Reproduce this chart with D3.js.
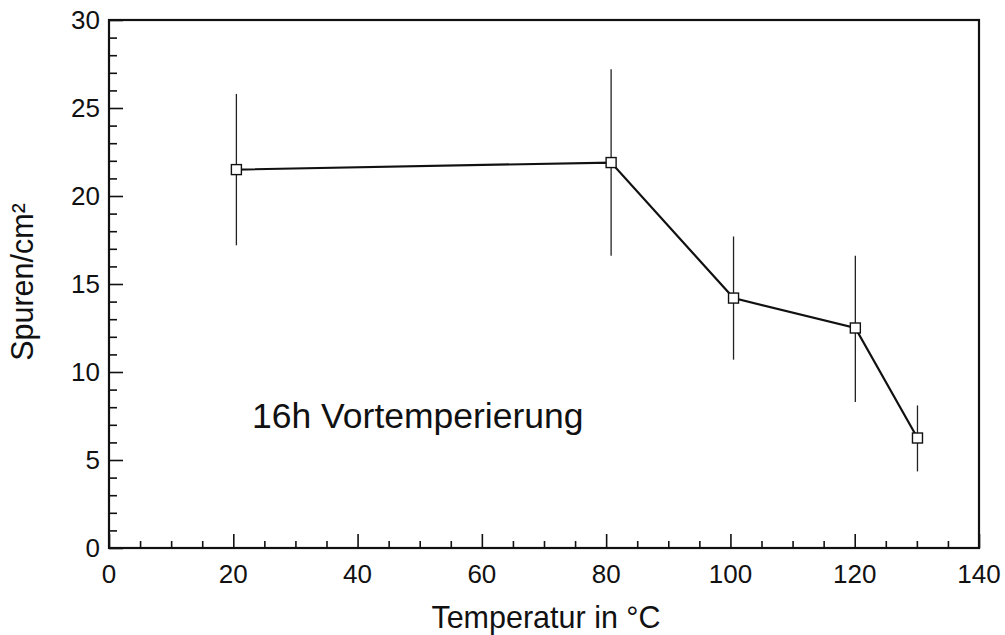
<!DOCTYPE html>
<html>
<head>
<meta charset="utf-8">
<script src="https://cdn.jsdelivr.net/npm/d3@7"></script>
<style>
  body { margin: 0; background: #fff; }
  svg { display: block; font-family: "Liberation Sans", Arial, Helvetica, sans-serif; }
</style>
</head>
<body>
<div id="chart"></div>
<script>
// Temperatur (°C), Spuren/cm², Fehlerbalken oben/unten
const temps = [20.5, 80.8, 100.5, 120.1, 130.1];
const tracks = [21.5, 21.9, 14.2, 12.5, 6.25];
const errHigh = [25.8, 27.2, 17.7, 16.6, 8.1];
const errLow = [17.2, 16.6, 10.7, 8.3, 4.35];

const xTicks = [0, 20, 40, 60, 80, 100, 120, 140];
const yTicks = [0, 5, 10, 15, 20, 25, 30];

const width = 1005;
const height = 635;
const plotLeft = 109, plotRight = 979, plotTop = 20, plotBottom = 548;

const x = d3.scaleLinear().domain([0, 140]).range([plotLeft, plotRight]);
const y = d3.scaleLinear().domain([0, 30]).range([plotBottom, plotTop]);

const svg = d3.select("#chart").append("svg")
  .attr("width", width)
  .attr("height", height);

// frame
svg.append("rect")
  .attr("x", plotLeft)
  .attr("y", plotTop)
  .attr("width", plotRight - plotLeft)
  .attr("height", plotBottom - plotTop)
  .style("fill", "none")
  .style("stroke", "#111")
  .attr("stroke-width", 2.2);

// ticks point inward, minor every 5 °C and every 1 unit
const xMinor = d3.range(0, 141, 5).filter(v => v % 20 !== 0);
const yMinor = d3.range(0, 31, 1).filter(v => v % 5 !== 0);

const xAxis = svg.append("g").attr("transform", `translate(0,${plotBottom})`);
xAxis.call(d3.axisTop(x).tickValues(xMinor).tickSize(7).tickFormat(""));
xAxis.call(g => g.select(".domain").remove());
const xAxisMajor = svg.append("g").attr("transform", `translate(0,${plotBottom})`);
xAxisMajor.call(d3.axisTop(x).tickValues(xTicks).tickSize(14).tickFormat(""));
xAxisMajor.call(g => g.select(".domain").remove());

const yAxis = svg.append("g").attr("transform", `translate(${plotLeft},0)`);
yAxis.call(d3.axisRight(y).tickValues(yMinor).tickSize(8).tickFormat(""));
yAxis.call(g => g.select(".domain").remove());
const yAxisMajor = svg.append("g").attr("transform", `translate(${plotLeft},0)`);
yAxisMajor.call(d3.axisRight(y).tickValues(yTicks).tickSize(14).tickFormat(""));
yAxisMajor.call(g => g.select(".domain").remove());

svg.selectAll(".tick line").style("stroke", "#111").attr("stroke-width", 1.6);

// tick labels
svg.append("g").selectAll("text")
  .data(xTicks)
  .join("text")
  .attr("x", d => x(d))
  .attr("y", 583)
  .attr("text-anchor", "middle")
  .style("fill", "#111")
  .attr("font-size", "26px")
  .text(d => d);

svg.append("g").selectAll("text")
  .data(yTicks)
  .join("text")
  .attr("x", 100)
  .attr("y", d => y(d))
  .attr("dy", "0.36em")
  .attr("text-anchor", "end")
  .style("fill", "#111")
  .attr("font-size", "26px")
  .text(d => d);

// axis titles
svg.append("text")
  .attr("x", (plotLeft + plotRight) / 2 + 2)
  .attr("y", 628)
  .attr("text-anchor", "middle")
  .style("fill", "#111")
  .attr("font-size", "30.5px")
  .text("Temperatur in °C");

svg.append("text")
  .attr("transform", `translate(33,282) rotate(-90)`)
  .attr("text-anchor", "middle")
  .style("fill", "#111")
  .attr("font-size", "30.5px")
  .text("Spuren/cm²");

// annotation
svg.append("text")
  .attr("x", 252)
  .attr("y", 428)
  .style("fill", "#111")
  .attr("font-size", "35.5px")
  .text("16h Vortemperierung");

const points = temps.map((t, i) => ({ t, v: tracks[i], hi: errHigh[i], lo: errLow[i] }));

// error bars
svg.append("g").selectAll("line")
  .data(points)
  .join("line")
  .attr("x1", d => x(d.t))
  .attr("x2", d => x(d.t))
  .attr("y1", d => y(d.hi))
  .attr("y2", d => y(d.lo))
  .style("stroke", "#222")
  .attr("stroke-width", 1.3);

// connecting line
svg.append("path")
  .datum(points)
  .attr("d", d3.line().x(d => x(d.t)).y(d => y(d.v)))
  .style("fill", "none")
  .style("stroke", "#111")
  .attr("stroke-width", 2.2);

// square markers
svg.append("g").selectAll("rect")
  .data(points)
  .join("rect")
  .attr("x", d => x(d.t) - 5)
  .attr("y", d => y(d.v) - 5)
  .attr("width", 10)
  .attr("height", 10)
  .style("fill", "#fff")
  .style("stroke", "#111")
  .attr("stroke-width", 1.4);
</script>
</body>
</html>
